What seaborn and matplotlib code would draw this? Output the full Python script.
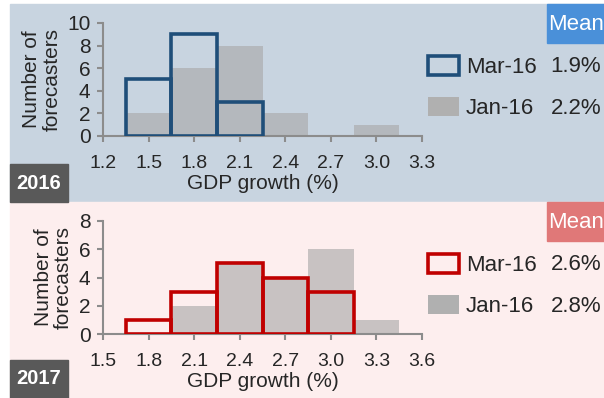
import matplotlib
matplotlib.use("Agg")
import matplotlib.pyplot as plt
from matplotlib.patches import Rectangle, Patch
import pandas as pd
import seaborn as sns

# histogram bins (centres, %) and number of forecasters per bin
centres_2016 = [1.5, 1.8, 2.1, 2.4, 2.7, 3.0]
mar16_2016 = [5, 9, 3, 0, 0, 0]
jan16_2016 = [2, 6, 8, 2, 0, 1]

centres_2017 = [1.8, 2.1, 2.4, 2.7, 3.0, 3.3]
mar16_2017 = [1, 3, 5, 4, 3, 0]
jan16_2017 = [0, 2, 5, 4, 6, 1]

means_2016 = ["1.9%", "2.2%"]
means_2017 = ["2.6%", "2.8%"]

xticks_2016 = [1.2, 1.5, 1.8, 2.1, 2.4, 2.7, 3.0, 3.3]
xticks_2017 = [1.5, 1.8, 2.1, 2.4, 2.7, 3.0, 3.3, 3.6]

sns.set_theme(style="white")
plt.rcParams["font.family"] = ["Liberation Sans", "DejaVu Sans"]

W, H = 604, 398
fig = plt.figure(figsize=(W / 100, H / 100), dpi=100)


def fx(px):
    return px / W


def fy(py):
    return 1 - py / H


GREY = "#a8a8a8"
AXC = "#8c8c8c"


def bin_edges(cs):
    return [round(c - 0.15, 2) for c in cs] + [round(cs[-1] + 0.15, 2)]


def panel(top, bottom, bg, line, mean_bg, year, centres, mar, jan, means, ticks, ymax):
    fig.patches.append(Rectangle((fx(10), fy(bottom)), 1 - fx(10), fy(top) - fy(bottom),
                                 transform=fig.transFigure, color=bg, zorder=-5))
    y0 = top + 132
    y1 = top + 19
    ax = fig.add_axes([fx(103), fy(y0), fx(422) - fx(103), fy(y1) - fy(y0)])
    ax.patch.set_alpha(0)

    df = pd.DataFrame({"x": centres + centres,
                       "n": mar + jan,
                       "month": ["Mar-16"] * len(mar) + ["Jan-16"] * len(jan)})
    j = df[df.month == "Jan-16"]
    m = df[(df.month == "Mar-16") & (df.n > 0)]
    sns.histplot(data=j, x="x", weights="n", bins=bin_edges(centres), ax=ax, color=GREY,
                 alpha=0.62, linewidth=0, zorder=2)
    sns.histplot(data=m, x="x", weights="n", bins=bin_edges(list(m.x)), ax=ax, fill=False,
                 color=line, linewidth=2.6, zorder=3)

    ax.set_xlim(ticks[0], ticks[-1])
    ax.set_ylim(0, ymax)
    ax.set_xticks(ticks, [f"{t:.1f}" for t in ticks])
    ax.set_yticks(range(0, ymax + 1, 2))
    sns.despine(ax=ax)
    for s in ["left", "bottom"]:
        ax.spines[s].set_color(AXC)
        ax.spines[s].set_linewidth(1.5)
    ax.tick_params(axis="x", length=4, width=1.5, color=AXC, pad=10, labelsize=14,
                   bottom=True, direction="out")
    ax.tick_params(axis="y", length=4, width=1.5, color=AXC, pad=5, labelsize=15,
                   left=True, direction="out")
    ax.set_xlabel("GDP growth (%)", fontsize=15, labelpad=1)
    ax.set_ylabel("Number of\nforecasters", fontsize=15, labelpad=4, linespacing=1.1)

    # year tag
    fig.patches.append(Rectangle((fx(10), fy(bottom)), fx(68) - fx(10), fy(bottom - 38) - fy(bottom),
                                 transform=fig.transFigure, color="#595959", zorder=5))
    fig.text(fx(39), fy(bottom - 19), year, color="white", fontsize=14.5, fontweight="bold",
             ha="center", va="center", zorder=6)
    # mean tag
    fig.patches.append(Rectangle((fx(547), fy(top + 39)), 1 - fx(547), fy(top) - fy(top + 39),
                                 transform=fig.transFigure, color=mean_bg, zorder=5))
    fig.text(fx(576), fy(top + 20), "Mean", color="white", fontsize=16,
             ha="center", va="center", zorder=6)

    handles = [Patch(facecolor="none", edgecolor=line, linewidth=2.6),
               Patch(facecolor="#b0b0b0", edgecolor="none")]
    fig.legend(handles, ["Mar-16", "Jan-16"], loc="upper left",
               bbox_to_anchor=(fx(428), fy(top + 52)), frameon=False, fontsize=16,
               handlelength=1.4, handleheight=0.95, handletextpad=0.3,
               labelspacing=0.85, borderpad=0, borderaxespad=0)
    for k, v in enumerate(means):
        fig.text(fx(601), fy(top + 63 + 41 * k), v, fontsize=16, ha="right", va="center")
    return ax


panel(4, 202, "#c8d4e0", "#1f4e79", "#4a90d9", "2016",
      centres_2016, mar16_2016, jan16_2016, means_2016, xticks_2016, 10)
panel(202, 398, "#fdeeee", "#c00000", "#e07878", "2017",
      centres_2017, mar16_2017, jan16_2017, means_2017, xticks_2017, 8)

fig.savefig("out.png", dpi=100)
